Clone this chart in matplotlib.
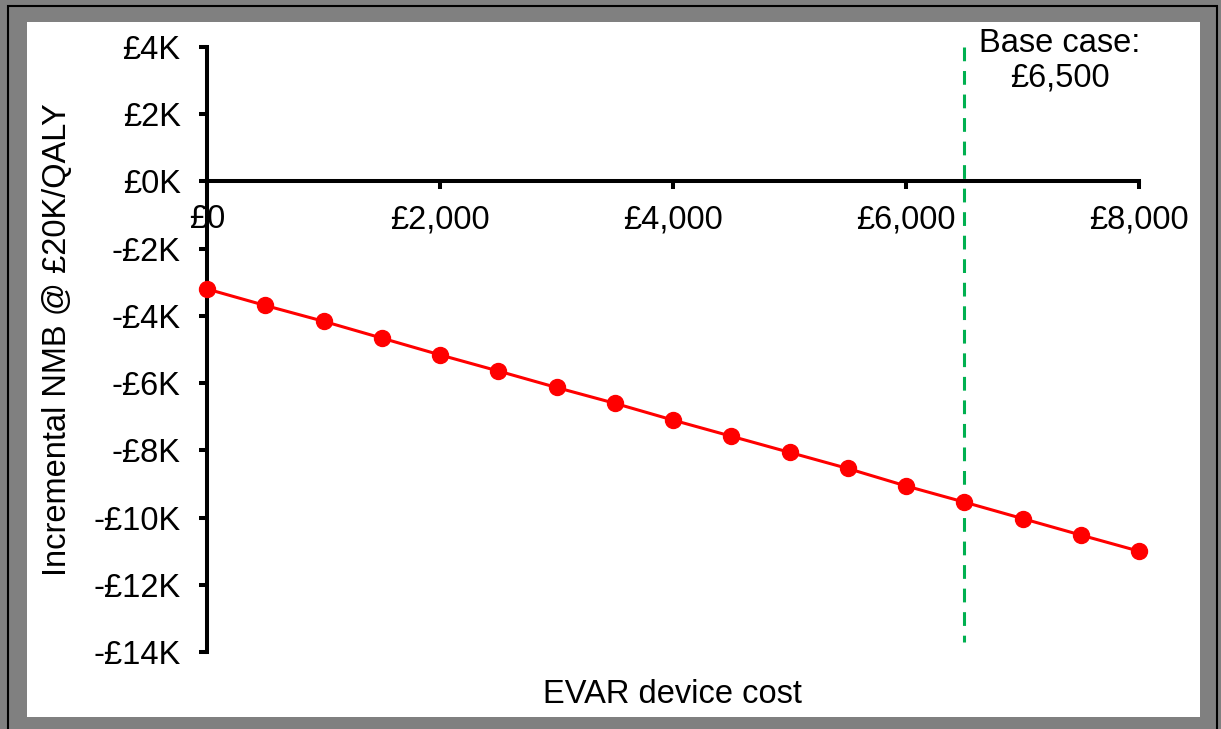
import numpy as np
import matplotlib
matplotlib.use("Agg")
import matplotlib.pyplot as plt
from matplotlib.patches import Rectangle
from matplotlib.ticker import FuncFormatter

plt.rcParams["font.family"] = ["Liberation Sans", "DejaVu Sans"]

# EVAR device cost (GBP) and incremental NMB at 20K/QALY (GBP)
device_cost = [0, 500, 1000, 1500, 2000, 2500, 3000, 3500, 4000,
               4500, 5000, 5500, 6000, 6500, 7000, 7500, 8000]
incr_nmb = [-3200, -3690, -4160, -4660, -5160, -5640, -6130, -6600, -7100,
            -7580, -8060, -8540, -9060, -9540, -10030, -10520, -11000]
base_case = 6500
y_ticks = list(range(-14000, 4001, 2000))
x_ticks = list(range(0, 8001, 2000))

FS = 23.5
W, H = 1221, 729
fig = plt.figure(figsize=(W / 100, H / 100), dpi=100)
fig.patch.set_facecolor("#808080")

# outer frame: black line, then white panel
fig.patches.append(Rectangle((8 / W, -0.05), (1217 - 8) / W, 1 - 6 / H + 0.05,
                             transform=fig.transFigure, fill=False,
                             edgecolor="black", lw=1.5, zorder=-10))
fig.patches.append(Rectangle((27 / W, 1 - 717 / H), (1200 - 27) / W, (717 - 22) / H,
                             transform=fig.transFigure, facecolor="white",
                             edgecolor="none", zorder=-10))

ax = fig.add_axes([207 / W, 1 - 652 / H, (1139 - 207) / W, (652 - 47) / H])
ax.set_facecolor("none")

ax.plot(device_cost, incr_nmb, color="#FF0000", lw=2.2, marker="o",
        markersize=11.5, clip_on=False, zorder=5)
ax.plot([base_case, base_case], [4000, -13700], color="#00B050", lw=2.2,
        dashes=(4.5, 3.2), zorder=4, clip_on=False)

ax.set_xlim(0, 8000)
ax.set_ylim(-14000, 4000)
ax.set_xticks(x_ticks)
ax.set_yticks(y_ticks)
ax.xaxis.set_major_formatter(FuncFormatter(lambda v, p: f"£{v:,.0f}"))
ax.yaxis.set_major_formatter(
    FuncFormatter(lambda v, p: f"-£{abs(v) / 1000:.0f}K" if v < 0 else f"£{v / 1000:.0f}K"))

for s in ["top", "right"]:
    ax.spines[s].set_visible(False)
ax.spines["bottom"].set_position(("data", 0))
ax.spines["left"].set_linewidth(2.9)
ax.spines["bottom"].set_linewidth(2.9)

ax.tick_params(axis="y", direction="out", length=6, width=2.9,
               labelsize=FS, pad=13)
ax.tick_params(axis="x", direction="out", length=6, width=2.9,
               labelsize=FS, pad=10.5)

ax.set_ylabel("Incremental NMB @ £20K/QALY", fontsize=FS)
ax.yaxis.set_label_coords(-0.144, 0.517)
ax.set_xlabel("EVAR device cost", fontsize=FS)
ax.xaxis.set_label_coords(0.499, -0.045)

ax.text(6630, 3580, "Base case:\n£6,500", fontsize=FS,
        ha="left", va="center", multialignment="center", linespacing=1.15)

fig.savefig("out.png", dpi=100, facecolor=fig.get_facecolor())
